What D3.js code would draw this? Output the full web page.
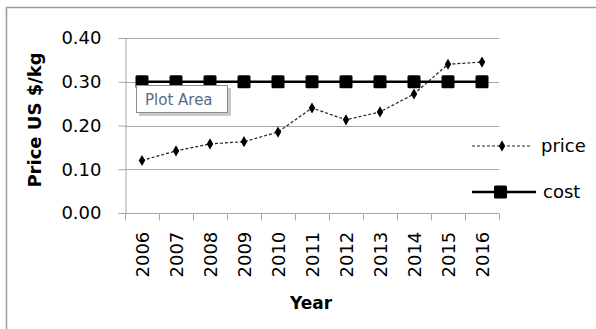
<!DOCTYPE html>
<html>
<head>
<meta charset="utf-8">
<script src="https://cdn.jsdelivr.net/npm/d3@7"></script>
<style>
  html, body { margin: 0; padding: 0; background: #fff; }
  svg { display: block; }
  text { font-family: "DejaVu Sans", "Open Sans", sans-serif; fill: #000; }
</style>
</head>
<body>
<script>
// Yearly price vs. production cost (US $/kg)
const years = ["2006","2007","2008","2009","2010","2011","2012","2013","2014","2015","2016"];
const price = [0.120, 0.142, 0.158, 0.163, 0.185, 0.240, 0.213, 0.231, 0.272, 0.340, 0.345];
const cost  = [0.30, 0.30, 0.30, 0.30, 0.30, 0.30, 0.30, 0.30, 0.30, 0.30, 0.30];
const yTicks = [0, 0.1, 0.2, 0.3, 0.4];

const W = 596, H = 329;
const plot = { left: 125, right: 499, top: 38, bottom: 213 };

const svg = d3.select("body").append("svg").attr("width", W).attr("height", H);

// chart frame (open on the right/bottom, cropped by the window)
svg.append("path")
  .attr("d", `M6.5,${H + 5} V7.5 H${W + 5}`)
  .attr("fill", "none").attr("stroke", "#9a9a9a").attr("stroke-width", 1.5);

const x = d3.scaleBand().domain(years).range([plot.left, plot.right]);
const y = d3.scaleLinear().domain([0, 0.4]).range([plot.bottom, plot.top]);

// gridlines
svg.append("g").selectAll("line").data(yTicks.slice(1)).join("line")
  .attr("x1", plot.left).attr("x2", plot.right)
  .attr("y1", d => Math.round(y(d)) + 0.5).attr("y2", d => Math.round(y(d)) + 0.5)
  .attr("stroke", "#a6a6a6").attr("stroke-width", 1);

// y axis
const yAxis = svg.append("g").attr("transform", `translate(${plot.left + 0.5},0)`)
  .call(d3.axisLeft(y).tickValues(yTicks).tickFormat(d3.format(".2f")).tickSize(7).tickPadding(17));
yAxis.select(".domain").attr("stroke", "#a6a6a6");
yAxis.selectAll(".tick line").attr("stroke", "#a6a6a6");
yAxis.selectAll(".tick text").attr("font-size", 18).attr("fill", "#000")
  .attr("font-family", "DejaVu Sans, sans-serif");

// x axis with tick marks at category boundaries
const xAxisG = svg.append("g").attr("transform", `translate(0,${plot.bottom + 0.5})`);
xAxisG.append("line").attr("x1", plot.left).attr("x2", plot.right)
  .attr("stroke", "#a6a6a6");
const bounds = years.map(d => x(d)).concat([x(years[years.length - 1]) + x.bandwidth()]);
xAxisG.selectAll(".bt").data(bounds).join("line").attr("class", "bt")
  .attr("x1", d => Math.round(d) + 0.5).attr("x2", d => Math.round(d) + 0.5)
  .attr("y1", 0).attr("y2", 7).attr("stroke", "#a6a6a6");
xAxisG.selectAll("text").data(years).join("text")
  .attr("transform", d => `translate(${x(d) + x.bandwidth() / 2 + 7},${277 - plot.bottom}) rotate(-90)`)
  .attr("font-size", 18)
  .text(d => d);

// axis titles
svg.append("text")
  .attr("transform", `translate(41,120) rotate(-90)`)
  .attr("text-anchor", "middle").attr("font-size", 18).attr("font-weight", "bold")
  .text("Price US $/kg");
svg.append("text")
  .attr("x", 311).attr("y", 309)
  .attr("text-anchor", "middle").attr("font-size", 17).attr("font-weight", "bold")
  .text("Year");

const cx = d => x(d) + x.bandwidth() / 2;

// cost series: thick line with square markers
svg.append("path").datum(cost)
  .attr("d", d3.line().x((d, i) => cx(years[i])).y(d => y(d)))
  .attr("fill", "none").attr("stroke", "#000").attr("stroke-width", 2.5);
svg.append("g").selectAll("rect").data(cost).join("rect")
  .attr("x", (d, i) => cx(years[i]) - 6.5).attr("y", d => y(d) - 6.5)
  .attr("width", 13).attr("height", 13).attr("rx", 1.5).attr("fill", "#000");

// price series: dashed line with diamond markers
svg.append("path").datum(price)
  .attr("d", d3.line().x((d, i) => cx(years[i])).y(d => y(d)))
  .attr("fill", "none").attr("stroke", "#222").attr("stroke-width", 1.2)
  .attr("stroke-dasharray", "3,2");
const diamond = d3.symbol().type(d3.symbolDiamond).size(36);
svg.append("g").selectAll("path").data(price).join("path")
  .attr("transform", (d, i) => `translate(${cx(years[i])},${y(d)})`)
  .attr("d", diamond).attr("fill", "#000");

// legend
const lg = svg.append("g");
lg.append("line").attr("x1", 472).attr("x2", 531).attr("y1", 146).attr("y2", 146)
  .attr("stroke", "#222").attr("stroke-width", 1.2).attr("stroke-dasharray", "3,2");
lg.append("path").attr("transform", "translate(502,146)").attr("d", diamond).attr("fill", "#000");
lg.append("text").attr("x", 541).attr("y", 152).attr("font-size", 18).text("price");
lg.append("line").attr("x1", 472).attr("x2", 536).attr("y1", 192).attr("y2", 192)
  .attr("stroke", "#000").attr("stroke-width", 2.5);
lg.append("rect").attr("x", 494).attr("y", 185.5).attr("width", 13).attr("height", 13)
  .attr("rx", 1.5).attr("fill", "#000");
lg.append("text").attr("x", 543).attr("y", 198).attr("font-size", 18).text("cost");

// hover tag for the plot area
const tag = svg.append("g").attr("transform", "translate(136,85)");
tag.append("rect").attr("x", 3).attr("y", 3).attr("width", 92).attr("height", 28)
  .attr("fill", "#8a8a8a").attr("opacity", 0.45);
tag.append("rect").attr("x", 0.5).attr("y", 0.5).attr("width", 91).attr("height", 27)
  .attr("fill", "#fff").attr("stroke", "#8c8c8c");
tag.append("text").attr("x", 9).attr("y", 20).attr("font-size", 15)
  .attr("font-family", "Open Sans, sans-serif").style("fill", "#5a6b85")
  .text("Plot Area");
</script>
</body>
</html>
